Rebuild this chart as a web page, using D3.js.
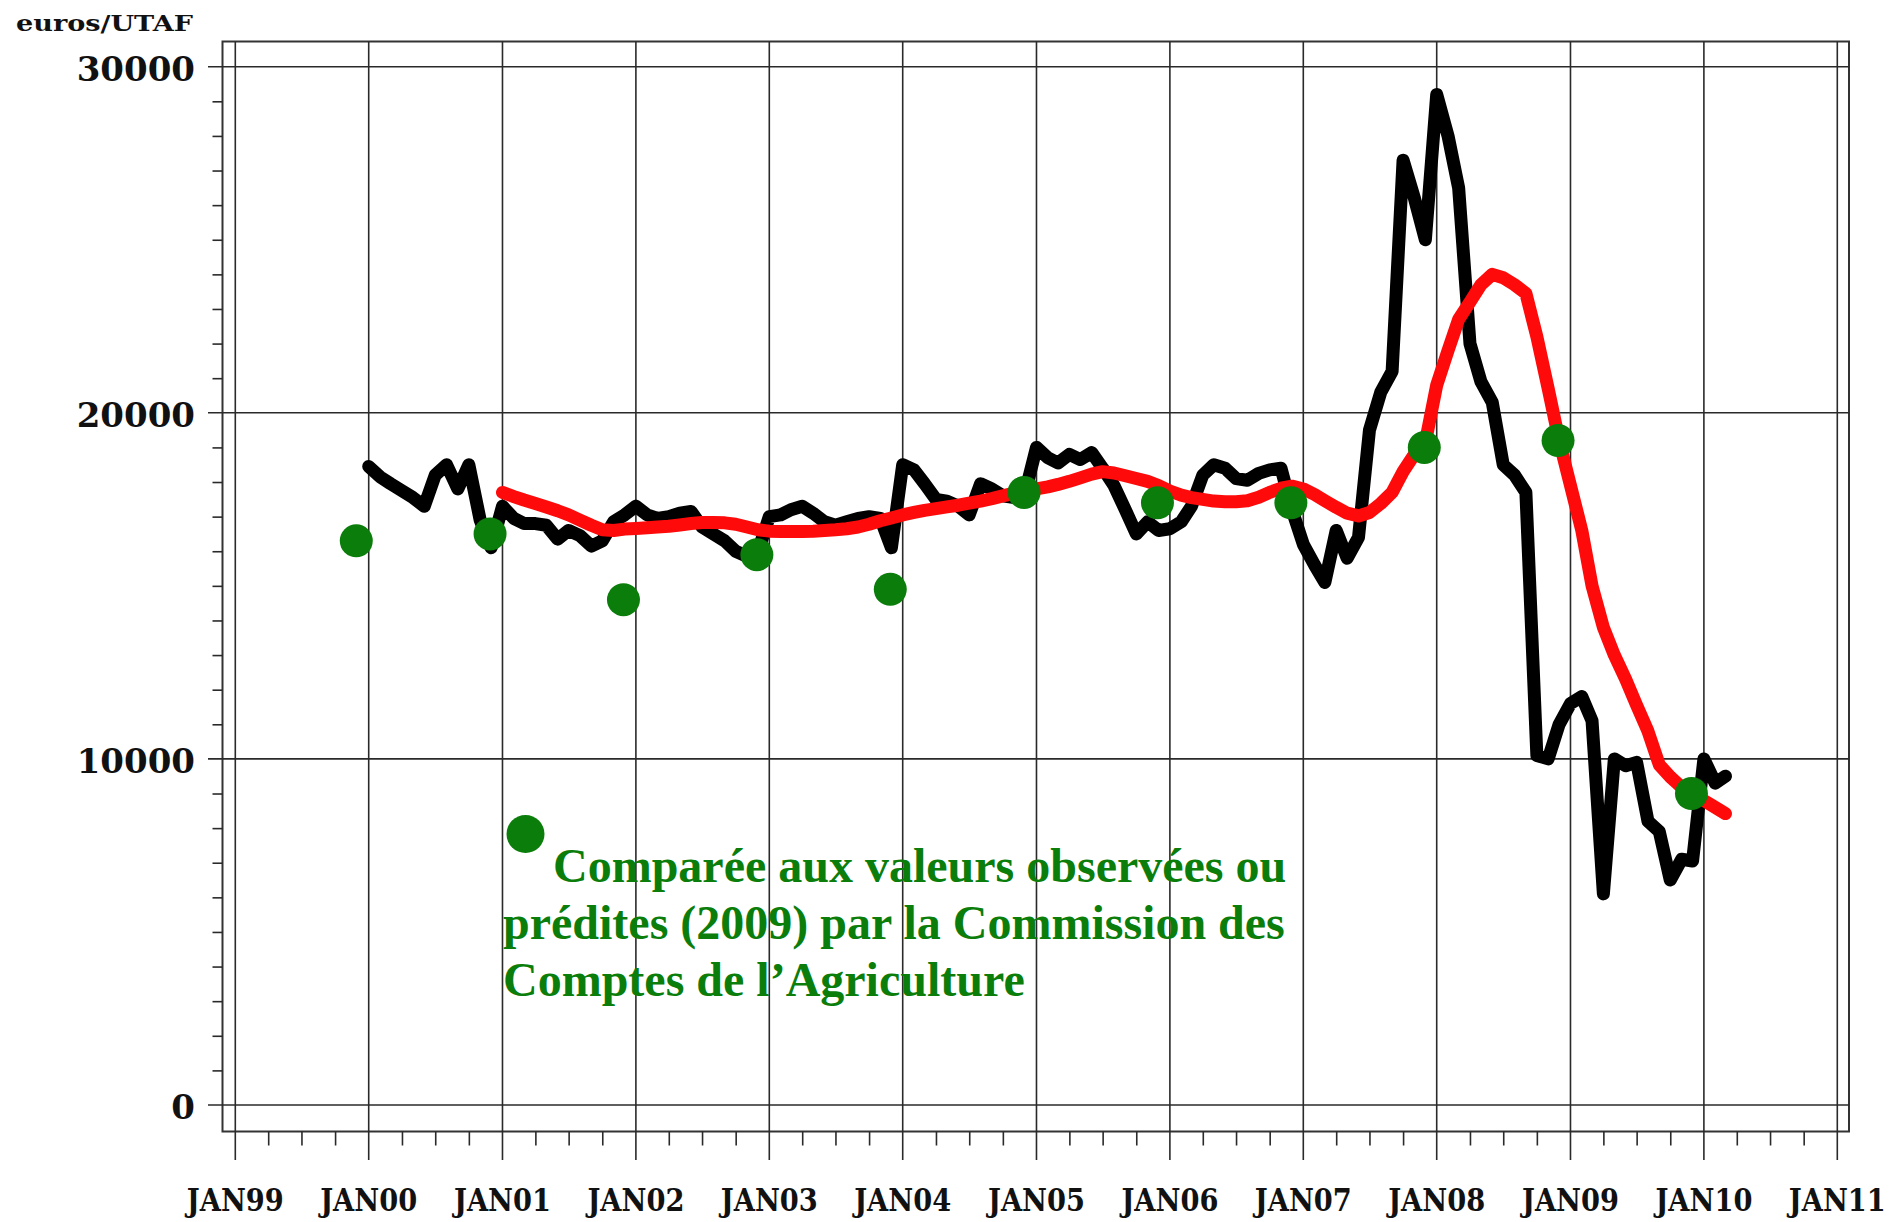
<!DOCTYPE html>
<html>
<head>
<meta charset="utf-8">
<script src="https://cdn.jsdelivr.net/npm/d3@7"></script>
<style>
  body { margin: 0; background: #fff; }
  svg { display: block; }
</style>
</head>
<body>
<div id="chart"></div>
<script>
// monthly observed values, Jan 2000 -> Mar 2010 (euros/UTAF)
const observed = [
  18450, 18150, 17950, 17750, 17550, 17300, 18200, 18500, 17800, 18500, 16900, 16100,
  17300, 16950, 16800, 16800, 16750, 16350, 16600, 16450, 16150, 16300, 16850, 17050,
  17300, 17050, 16950, 17000, 17100, 17150, 16700, 16500, 16300, 16000, 15850, 16000,
  17000, 17050, 17200, 17300, 17100, 16850, 16750, 16850, 16950, 17000, 16950, 16100,
  18500, 18350, 17950, 17500, 17450, 17300, 17050, 17950, 17800, 17600, 17550, 17700,
  19000, 18700, 18550, 18800, 18650, 18850, 18400, 17900, 17200, 16500, 16850, 16600,
  16650, 16850, 17300, 18200, 18500, 18400, 18100, 18050, 18250, 18350, 18400, 17200,
  16200, 15600, 15100, 16600, 15800, 16400, 19500, 20600, 21200, 27300, 26200, 25000,
  29200, 28000, 26500, 22000, 20900, 20300, 18500, 18200, 17700, 10100, 10000, 11000,
  11600, 11800, 11100, 6100, 10000, 9800, 9900, 8200, 7900, 6500, 7100, 7050,
  10000, 9300, 9500
]
const observedStart = [2000, 0]

// smoothed (red) curve, Jan 2001 -> Mar 2010
const smoothed = [
  17700, 17580, 17480, 17380, 17280, 17170, 17050, 16900, 16750, 16620, 16600, 16640,
  16660, 16680, 16700, 16720, 16760, 16800, 16830, 16830, 16820, 16780, 16700, 16620,
  16580, 16570, 16570, 16570, 16580, 16600, 16620, 16650, 16700, 16780, 16880, 16960,
  17050, 17120, 17180, 17230, 17280, 17330, 17390, 17450, 17520, 17600, 17680, 17740,
  17800, 17860, 17930, 18020, 18120, 18230, 18300, 18260, 18180, 18100, 18020, 17900,
  17740, 17620, 17550, 17500, 17450, 17430, 17430, 17460, 17560, 17700, 17820, 17880,
  17800, 17640, 17460, 17270, 17100, 17020, 17120, 17380, 17700, 18300, 18800, 19150,
  20800, 21800, 22700, 23200, 23700, 24000, 23900, 23700, 23450, 22200, 20700, 19200,
  17900, 16600, 15000, 13800, 13000, 12300, 11550, 10800, 9830, 9480, 9180, 9020,
  8800, 8600, 8420
]
const smoothedStart = [2001, 0]

// Commission des Comptes de l'Agriculture values (plotted in December)
const ccaYears = [1999, 2000, 2001, 2002, 2003, 2004, 2005, 2006, 2007, 2008, 2009]
const ccaValues = [16300, 16500, 14600, 15900, 14900, 17700, 17400, 17400, 19000, 19200, 9000]

const yearTicks = d3.range(1999, 2012)
const yTicks = [0, 10000, 20000, 30000]
const yLabel = 'euros/UTAF'
const noteLines = [
  'Comparée aux valeurs observées ou',
  'prédites (2009) par la Commission des',
  'Comptes de l’Agriculture'
]

const width = 1904
const height = 1222
const frame = { left: 222.5, right: 1849, top: 41.5, bottom: 1131.5 }
const green = '#0a7d0a'

const svg = d3.select('#chart').append('svg')
  .attr('width', width)
  .attr('height', height)

const x = d3.scaleTime()
  .domain([new Date(1999, 0, 1), new Date(2011, 0, 1)])
  .range([235.3, 1837.3])

const y = d3.scaleLinear()
  .domain([0, 30000])
  .range([1105, 66.7])

const monthSeries = (start, values) => values.map((v, i) => ({ date: new Date(start[0], start[1] + i, 1), value: v }))

// frame
svg.append('rect')
  .attr('x', frame.left)
  .attr('y', frame.top)
  .attr('width', frame.right - frame.left)
  .attr('height', frame.bottom - frame.top)
  .attr('fill', 'none')
  .attr('stroke', '#333')
  .attr('stroke-width', 2)

// vertical grid (years) running down into the axis
svg.append('g')
  .selectAll('line')
  .data(yearTicks)
  .join('line')
  .attr('x1', d => x(new Date(d, 0, 1)))
  .attr('x2', d => x(new Date(d, 0, 1)))
  .attr('y1', frame.top)
  .attr('y2', 1160)
  .attr('stroke', '#2a2a2a')
  .attr('stroke-width', 1.6)

// quarterly minor ticks below frame
const quarterDates = []
yearTicks.slice(0, -1).forEach(yr => [3, 6, 9].forEach(m => quarterDates.push(new Date(yr, m, 1))))
svg.append('g')
  .attr('transform', `translate(0,${frame.bottom})`)
  .call(d3.axisBottom(x).tickValues(quarterDates).tickSize(14).tickFormat(''))
  .call(g => g.select('.domain').remove())
  .call(g => g.selectAll('line').attr('stroke', '#2a2a2a').attr('stroke-width', 1.6))

// horizontal grid
svg.append('g')
  .selectAll('line')
  .data(yTicks)
  .join('line')
  .attr('x1', 208)
  .attr('x2', frame.right)
  .attr('y1', d => y(d))
  .attr('y2', d => y(d))
  .attr('stroke', '#2a2a2a')
  .attr('stroke-width', 1.6)

// minor y ticks every 1000
const yMinor = d3.range(0, 30001, 1000).filter(v => v % 10000 !== 0)
svg.append('g')
  .attr('transform', `translate(${frame.left},0)`)
  .call(d3.axisLeft(y).tickValues(yMinor).tickSize(10).tickFormat(''))
  .call(g => g.select('.domain').remove())
  .call(g => g.selectAll('line').attr('stroke', '#2a2a2a').attr('stroke-width', 1.6))

// y labels
svg.append('g')
  .selectAll('text')
  .data(yTicks)
  .join('text')
  .attr('x', 195)
  .attr('y', d => y(d) + 14)
  .attr('text-anchor', 'end')
  .attr('font-family', 'DejaVu Serif')
  .attr('font-weight', 'bold')
  .attr('font-size', 34)
  .attr('fill', '#111')
  .text(d => d)

svg.append('text')
  .attr('x', 16)
  .attr('y', 31)
  .attr('font-family', 'DejaVu Serif')
  .attr('font-weight', 'bold')
  .attr('font-size', 23)
  .attr('textLength', 177)
  .attr('lengthAdjust', 'spacingAndGlyphs')
  .attr('fill', '#111')
  .text(yLabel)

// x labels
svg.append('g')
  .selectAll('text')
  .data(yearTicks)
  .join('text')
  .attr('x', d => x(new Date(d, 0, 1)))
  .attr('y', 1211)
  .attr('text-anchor', 'middle')
  .attr('font-family', 'DejaVu Serif')
  .attr('font-weight', 'bold')
  .attr('font-size', 32)
  .attr('textLength', 97)
  .attr('lengthAdjust', 'spacingAndGlyphs')
  .attr('fill', '#111')
  .text(d => 'JAN' + String(d).slice(2))

// lines
const line = d3.line()
  .x(d => x(d.date))
  .y(d => y(d.value))

svg.append('path')
  .datum(monthSeries(observedStart, observed))
  .attr('d', line)
  .attr('fill', 'none')
  .attr('stroke', '#000')
  .attr('stroke-width', 13)
  .attr('stroke-linejoin', 'round')
  .attr('stroke-linecap', 'round')

svg.append('path')
  .datum(monthSeries(smoothedStart, smoothed))
  .attr('d', line)
  .attr('fill', 'none')
  .attr('stroke', '#ff0a0a')
  .attr('stroke-width', 13)
  .attr('stroke-linejoin', 'round')
  .attr('stroke-linecap', 'round')

// CCA dots
svg.append('g')
  .selectAll('circle')
  .data(ccaYears.map((yr, i) => ({ date: new Date(yr, 10, 28), value: ccaValues[i] })))
  .join('circle')
  .attr('cx', d => x(d.date))
  .attr('cy', d => y(d.value))
  .attr('r', 16.5)
  .attr('fill', green)

// note
svg.append('circle')
  .attr('cx', 525.5)
  .attr('cy', 834)
  .attr('r', 19)
  .attr('fill', green)

svg.append('g')
  .selectAll('text')
  .data(noteLines)
  .join('text')
  .attr('x', (d, i) => i === 0 ? 553 : 503)
  .attr('y', (d, i) => 882 + i * 57)
  .attr('font-family', 'Liberation Serif')
  .attr('font-weight', 'bold')
  .attr('font-size', 48)
  .attr('fill', green)
  .text(d => d)
</script>
</body>
</html>
